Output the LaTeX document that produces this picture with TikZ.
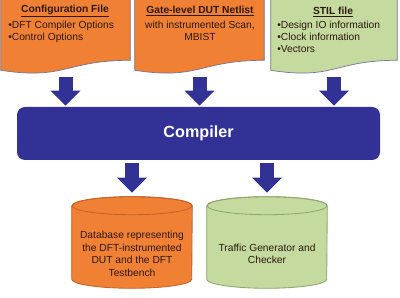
\documentclass[tikz,border=0pt]{standalone}
\usepackage{fontspec}
\setmainfont{Liberation Sans}
\usetikzlibrary{arrows.meta, positioning, calc}
\definecolor{cOrange}{RGB}{240, 128, 52}
\definecolor{bOrange}{RGB}{196, 98, 40}
\definecolor{cGreen}{RGB}{196, 218, 158}
\definecolor{bGreen}{RGB}{140, 168, 108}
\definecolor{cBlue}{RGB}{50, 50, 150}
\definecolor{bDoc}{RGB}{120, 118, 150}
\definecolor{tDark}{RGB}{45, 25, 15}

% wavy-bottom document outline around an (empty) node
\newcommand{\docoutline}[3]{%
    \draw[draw=#3, fill=#2, line width=0.5pt]
        ($(#1.north west)+(0,0.2)$) -- ($(#1.north east)+(0,0.2)$) -- (#1.south east)
        .. controls (#1.south) and ($(#1.south)+(0,-0.5)$) .. ($(#1.south west)+(0,-0.25)$)
        -- cycle;}
% cylinder outline around an (empty) node
\newcommand{\cyloutline}[3]{%
    \draw[draw=#3, fill=#2, line width=0.6pt]
        ($(#1.north west)+(0,-0.225)$) -- ($(#1.south west)+(0,0.225)$)
        arc[start angle=180, end angle=360, x radius=1.5, y radius=0.225]
        -- ($(#1.north east)+(0,-0.225)$)
        arc[start angle=0, end angle=180, x radius=1.5, y radius=0.225];
    \draw[draw=#3, line width=0.6pt] ($(#1.north)+(0,-0.225)$) ellipse[x radius=1.5, y radius=0.225];}

\begin{document}
\begin{tikzpicture}[
    font=\fontsize{7.3}{8.5}\selectfont,
    docbox/.style={minimum width=3.225cm, minimum height=1.6cm, inner sep=0pt},
    cylbox/.style={minimum width=3cm, minimum height=2.275cm, inner sep=0pt},
    doctext/.style={text=tDark, inner sep=0pt},
    bigarrow/.style={-{Triangle[length=0.375cm, width=0.725cm]}, line width=0.35cm, color=cBlue}
]
\useasboundingbox (0,0) rectangle (10,7.425);

% Input files (top row)
\node[docbox] (cfg) at (1.6375, 6.725) {};
\node[docbox] (net) at (4.9875, 6.725) {};
\node[docbox, minimum width=3.15cm] (stil) at (8.35, 6.725) {};
\docoutline{cfg}{cOrange}{bDoc}
\docoutline{net}{cOrange}{bDoc}
\docoutline{stil}{cGreen}{bDoc}

\node[doctext] (cfg_title) at (1.625, 7.15) {\underline{\textbf{Configuration File}}};
\node[doctext, align=left, anchor=north west] (cfg_list) at (0.2, 6.9125) {
    \textbullet DFT Compiler Options\\
    \textbullet Control Options
};

\node[doctext] (net_title) at (5.0, 7.15) {\underline{\textbf{Gate-level DUT Netlist}}};
\node[doctext, align=center, anchor=north] (net_list) at (5.0, 6.9125) {
    with instrumented Scan,\\
    MBIST
};

\node[doctext] (stil_title) at (8.325, 7.125) {\underline{\textbf{STIL file}}};
\node[doctext, align=left, anchor=north west] (stil_list) at (6.925, 6.9125) {
    \textbullet Design IO information\\
    \textbullet Clock information\\
    \textbullet Vectors
};

% Compiler
\node[fill=cBlue, rounded corners=0.2cm, minimum width=9.075cm, minimum height=1.325cm,
      text=white, font=\fontsize{11.5}{13}\selectfont\bfseries] (comp) at (4.9625, 4.0875) {Compiler};

% Outputs (bottom row)
\node[cylbox] (db) at (3.3, 1.3625) {};
\node[cylbox] (tgen) at (6.675, 1.3625) {};
\cyloutline{db}{cOrange}{bOrange}
\cyloutline{tgen}{cGreen}{bGreen}

\node[doctext, align=center, font=\fontsize{7.3}{9}\selectfont] (db_text) at (3.3, 1.075) {
    Database representing\\
    the DFT-instrumented\\
    DUT and the DFT\\
    Testbench
};
\node[doctext, align=center, font=\fontsize{7.3}{9}\selectfont] (tgen_text) at (6.675, 1.075) {
    Traffic Generator and\\
    Checker
};

\draw[bigarrow, shorten <=0.425cm, shorten >=0.025cm] (cfg.south) -- (comp.north -| cfg.south);
\draw[bigarrow, shorten <=0.425cm, shorten >=0.025cm] (net.south) -- (comp.north -| net.south);
\draw[bigarrow, shorten <=0.425cm, shorten >=0.025cm] (stil.south) -- (comp.north -| stil.south);
\draw[bigarrow, shorten <=0.075cm, shorten >=0.1cm] (comp.south -| db.north) -- (db.north);
\draw[bigarrow, shorten <=0.075cm, shorten >=0.1cm] (comp.south -| tgen.north) -- (tgen.north);

\end{tikzpicture}
\end{document}
